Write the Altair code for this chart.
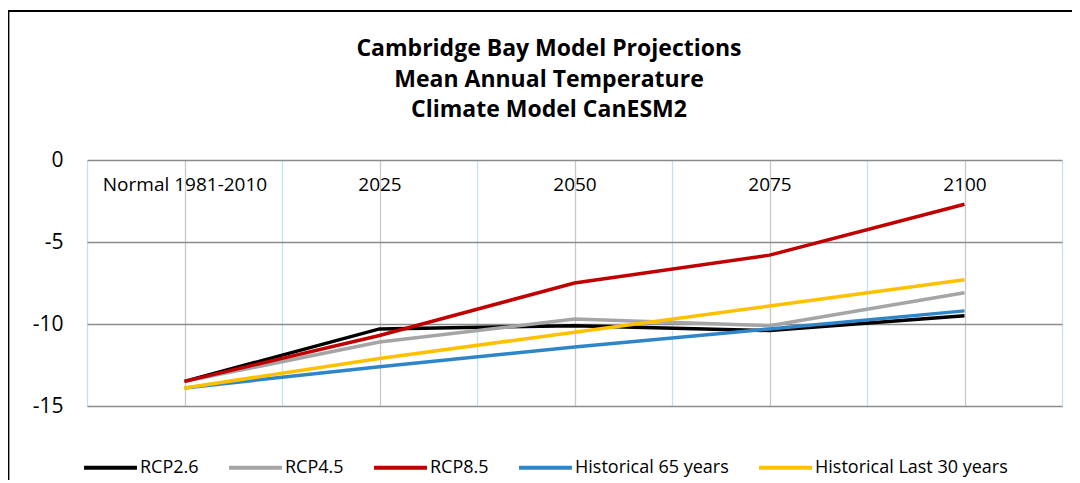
import json
import altair as alt
import pandas as pd

categories = ["Normal 1981-2010", "2025", "2050", "2075", "2100"]
series_names = ["RCP2.6", "RCP4.5", "RCP8.5", "Historical 65 years", "Historical Last 30 years"]
rcp26 = [-13.5, -10.3, -10.1, -10.4, -9.5]
rcp45 = [-13.5, -11.1, -9.7, -10.1, -8.1]
rcp85 = [-13.5, -10.7, -7.5, -5.8, -2.7]
hist65 = [-13.9, -12.6, -11.4, -10.3, -9.2]
hist30 = [-13.9, -12.1, -10.5, -8.9, -7.3]
colors = ["#000000", "#a5a5a5", "#c00000", "#2e86c8", "#ffc000"]
title_lines = ["Cambridge Bay Model Projections", "Mean Annual Temperature", "Climate Model CanESM2"]

rows = []
for name, vals in zip(series_names, [rcp26, rcp45, rcp85, hist65, hist30]):
    for i, (cat, v) in enumerate(zip(categories, vals)):
        rows.append({"series": name, "period": cat, "idx": i, "temp": v})
df = pd.DataFrame(rows)

FONT = "Open Sans"
cats_js = json.dumps(categories)
n = len(categories)
x_values = [k / 2 for k in range(-1, 2 * n)]  # band edges and centres

x = alt.X(
    "idx:Q",
    scale=alt.Scale(domain=[-0.5, n - 0.5], nice=False, zero=False),
    axis=alt.Axis(
        orient="top",
        values=x_values,
        title=None,
        domain=False,
        ticks=False,
        tickSize=0,
        labelPadding=-30,
        labelBaseline="alphabetic",
        labelFontSize=19,
        labelFont=FONT,
        labelColor="#000000",
        labelOverlap=False,
        labelFlush=False,
        labelBound=False,
        labelExpr=f"datum.value % 1 === 0 ? {cats_js}[datum.value] : ''",
        grid=True,
        gridColor={
            "condition": {"test": "datum.value % 1 !== 0", "value": "#bfe3f5"},
            "value": "#c8c8c8",
        },
        gridWidth=1.3,
    ),
)
y = alt.Y(
    "temp:Q",
    scale=alt.Scale(domain=[-15, 0], nice=False),
    axis=alt.Axis(
        values=[0, -5, -10, -15],
        title=None,
        domain=False,
        ticks=False,
        labelPadding=24,
        labelFontSize=21,
        labelFont=FONT,
        labelColor="#000000",
        labelExpr="datum.value + ''",
        gridColor="#8c8c8c",
        gridWidth=1.3,
    ),
)

lines = alt.Chart(df).mark_line(strokeWidth=3.5).encode(
    x=x,
    y=y,
    color=alt.Color(
        "series:N",
        scale=alt.Scale(domain=series_names, range=colors),
        sort=series_names,
        legend=alt.Legend(
            title=None,
            orient="none",
            legendX=-5,
            legendY=279,
            direction="horizontal",
            columns=5,
            symbolType="stroke",
            symbolSize=2800,
            symbolStrokeWidth=4,
            labelFont=FONT,
            labelFontSize=18,
            labelColor="#000000",
            labelOffset=1,
            columnPadding=22,
            labelLimit=400,
        ),
    ),
    order=alt.Order("idx:Q"),
)

single = pd.DataFrame({"b": [0]})
border = alt.Chart(single).mark_rect(
    fill=None, stroke="#000000", strokeWidth=2.2
).encode(
    x=alt.value(-78.7), x2=alt.value(1500), y=alt.value(-149), y2=alt.value(800)
)

title = alt.Chart(single).mark_text(
    text=title_lines,
    font=FONT,
    fontSize=23,
    fontWeight="bold",
    color="#000000",
    lineHeight=30.5,
    align="center",
    baseline="middle",
).encode(x=alt.value(462), y=alt.value(-111))

chart = alt.layer(border, lines, title).properties(
    width=975,
    height=246,
    autosize=alt.AutoSizeParams(type="none"),
    padding={"left": 79, "top": 152, "right": 10, "bottom": 74},
).configure_view(stroke=None).configure(background="#ffffff")

chart.save("out.html", embed_options={"renderer": "svg", "actions": False})
